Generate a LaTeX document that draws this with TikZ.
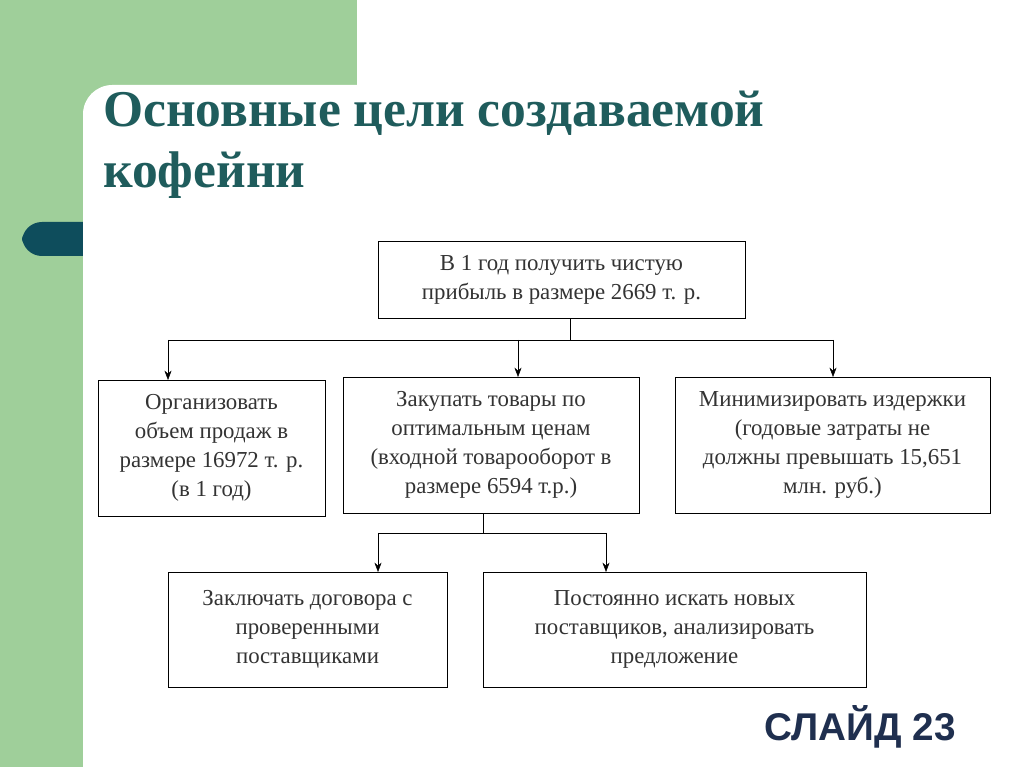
\documentclass[tikz,border=0pt]{standalone}
\usepackage{fontspec}
\setmainfont{Liberation Serif}
\newfontfamily\slidefont{Liberation Sans}
\usetikzlibrary{arrows.meta}
\definecolor{slidegreen}{HTML}{9FCF9A}
\definecolor{slideteal}{HTML}{0E4D5C}
\definecolor{titleteal}{HTML}{1F5C5C}
\definecolor{slidenavy}{HTML}{1F2F4F}
\tikzset{
    >={Stealth[length=8pt,width=6pt]}, % arrow heads
    goal/.style={draw, thin, align=center, text=black!80, font=\fontsize{19.5}{24.7}\selectfont, inner sep=0pt}, % goal boxes
    link/.style={thin, ->}, % connectors
}
\begin{document}
\begin{tikzpicture}[x=0.03cm, y=-0.03cm]
    \useasboundingbox (0,0) rectangle (1024,767);
    % background
    \fill[slidegreen] (0,0) rectangle (1024,767);
    \fill[slideteal, rounded corners=17] (22,222) rectangle (110,256);
    \fill[white] (357,0) rectangle (1024,85);
    \begin{scope}
        \clip (0,0) rectangle (1024,767);
        \fill[white, rounded corners=25] (83,85) rectangle (1100,850);
    \end{scope}
    % title
    \node[anchor=west, align=left, text=titleteal, font=\fontsize{44}{52}\selectfont\bfseries] (title) at (99,145) {Основные цели создаваемой\\кофейни};
    % boxes
    \node[goal, minimum width=367*0.03cm, minimum height=77*0.03cm] (top) at (561.5,279.5) {В 1 год получить чистую\\прибыль в размере 2669 т. р.};
    \node[goal, minimum width=227*0.03cm, minimum height=136*0.03cm] (sales) at (211.5,448) {Организовать\\объем продаж в\\размере 16972 т. р.\\(в 1 год)};
    \node[goal, minimum width=296*0.03cm, minimum height=136*0.03cm] (buy) at (491,445) {Закупать товары по\\оптимальным ценам\\(входной товарооборот в\\размере 6594 т.р.)};
    \node[goal, minimum width=315*0.03cm, minimum height=136*0.03cm] (costs) at (832.5,445) {Минимизировать издержки\\(годовые затраты не\\должны превышать 15,651\\млн. руб.)};
    \node[goal, minimum width=279*0.03cm, minimum height=115*0.03cm] (contract) at (307.5,629.5) {Заключать договора с\\проверенными\\поставщиками};
    \node[goal, minimum width=383*0.03cm, minimum height=115*0.03cm] (search) at (674.5,629.5) {Постоянно искать новых\\поставщиков, анализировать\\предложение};
    % connectors
    \coordinate (j1) at (570,340);
    \coordinate (j2) at (483,533);
    \draw[thin] (top.south -| j1) -- (j1);
    \draw[thin] (168,340) -- (833,340);
    \draw[link] (168,340) -- (168,380);
    \draw[link] (518,340) -- (518,377);
    \draw[link] (833,340) -- (833,377);
    \draw[thin] (buy.south -| j2) -- (j2);
    \draw[thin] (378,533) -- (606,533);
    \draw[link] (378,533) -- (378,572);
    \draw[link] (606,533) -- (606,572);
    % slide number
    \node[anchor=east, text=slidenavy, font=\slidefont\fontsize{33}{36}\selectfont\bfseries] (slide) at (960,727) {СЛАЙД 23};
\end{tikzpicture}
\end{document}
